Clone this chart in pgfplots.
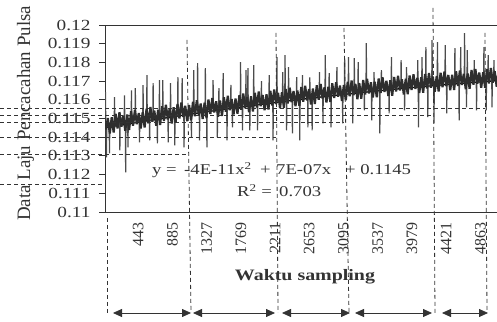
\documentclass[border=0pt]{standalone}
\usepackage{pgfplots}
\pgfplotsset{compat=1.18}
\usepackage{fontspec}
\setmainfont{Liberation Serif}
\newfontfamily\hfont{Liberation Serif}[FakeStretch=1.25]
\usetikzlibrary{arrows.meta}
\definecolor{ink}{gray}{0.2}
\begin{document}
\begin{tikzpicture}
\useasboundingbox (0,0) rectangle (497bp,322bp);
\fill[white] (0,0) rectangle (497bp,322bp);
\begin{axis}[at={(105bp,110bp)}, anchor=south west, scale only axis,
  width=395bp, height=187bp,
  xmin=13, xmax=5118, ymin=0.11, ymax=0.12,
  axis line style={ink, line width=0.8bp},
  xtick={443,885,1327,1769,2211,2653,3095,3537,3979,4421,4863},
  xticklabels={443,885,1327,1769,2211,2653,3095,3537,3979,4421,4863},
  xtick style={draw=none},
  xticklabel style={rotate=90, anchor=east, font=\fontsize{16}{16}\selectfont, text=ink, xshift=-1bp},
  ytick={0.11,0.111,0.112,0.113,0.114,0.115,0.116,0.117,0.118,0.119,0.12},
  yticklabels={0.11,0.111,0.112,0.113,0.114,0.115,0.116,0.117,0.118,0.119,0.12},
  ytick pos=left, tick align=outside, major tick length=6bp,
  ytick style={ink, line width=0.8bp},
  yticklabel style={font=\hfont\fontsize{15.5}{16}\selectfont, text=ink, xshift=-5bp},
  clip=true]
% polynomial trendline
\addplot[black, line width=1.3pt, smooth] coordinates {
(0,0.11450)(500,0.11484)(1000,0.11516)(1500,0.11546)(2000,0.11574)(2500,0.11600)(3000,0.11624)(3500,0.11646)(4000,0.11666)(4500,0.11684)(5000,0.11700)(5118,0.11704)
};
% isolated excursions of the count rate
\addplot[black!70, line width=1.2bp, line join=bevel] coordinates {
(0,.1147)(15,.1147)(19,.11641)(23,.1147)(28,.1147)(32,.11292)(36,.1147)(67,.1147)(71,.11313)(75,.1147)
(132,.11477)(136,.11614)(140,.11477)
(201,.11484)(205,.11330)(209,.11484)(261,.11484)(265,.11624)(269,.11484)(276,.11484)(280,.11212)(284,.11484)
(306,.11491)(310,.11346)(314,.11491)(351,.11491)(355,.11651)(359,.11491)
(401,.11497)(405,.11662)(409,.11497)(455,.11497)(459,.11373)(463,.11497)
(501,.11504)(505,.11678)(509,.11504)(551,.11504)(555,.11732)(559,.11504)(586,.11504)(590,.11383)(594,.11504)
(631,.11511)(635,.11689)(639,.11511)(686,.11511)(690,.11367)(694,.11511)
(713,.11517)(717,.11705)(721,.11517)(756,.11517)(760,.11705)(764,.11517)
(826,.11523)(830,.11373)(834,.11523)(856,.11523)(860,.11689)(864,.11523)
(911,.1153)(915,.11356)(919,.1153)(951,.1153)(955,.11721)(959,.1153)
(1006,.11536)(1010,.11716)(1014,.11536)(1031,.11536)(1035,.11346)(1039,.11536)
(1126,.11542)(1130,.11399)(1134,.11542)(1156,.11542)(1160,.11759)(1164,.11542)
(1206,.11548)(1210,.11796)(1214,.11548)(1231,.11548)(1235,.11383)(1239,.11548)
(1306,.11554)(1310,.11769)(1314,.11554)(1326,.11554)(1330,.11346)(1334,.11554)
(1406,.1156)(1410,.11705)(1414,.1156)(1461,.1156)(1465,.11399)(1469,.1156)(1481,.1156)(1485,.11662)(1489,.1156)
(1536,.11566)(1540,.11742)(1544,.11566)(1586,.11566)(1590,.11383)(1594,.11566)
(1636,.11572)(1640,.11680)(1644,.11572)(1656,.11572)(1660,.11453)(1664,.11572)
(1761,.11577)(1765,.11801)(1769,.11577)(1786,.11577)(1790,.11437)(1794,.11577)
(1831,.11583)(1835,.11758)(1839,.11583)(1856,.11583)(1860,.11769)(1864,.11583)(1881,.11583)(1885,.11437)(1889,.11583)
(1931,.11589)(1935,.11785)(1939,.11589)(1981,.11589)(1985,.11437)(1989,.11589)
(2031,.11594)(2035,.11700)(2039,.11594)
(2131,.116)(2135,.11732)(2139,.116)(2181,.116)(2185,.11383)(2189,.116)
(2231,.11605)(2235,.11828)(2239,.11605)
(2306,.1161)(2310,.11748)(2314,.1161)(2336,.1161)(2340,.11839)(2344,.1161)(2356,.1161)(2360,.11437)(2364,.1161)(2381,.1161)(2385,.11775)(2389,.1161)
(2431,.11615)(2435,.11421)(2439,.11615)(2486,.11615)(2490,.11721)(2494,.11615)
(2526,.1162)(2530,.11383)(2534,.1162)(2561,.1162)(2565,.11732)(2569,.1162)
(2631,.11625)(2635,.11453)(2639,.11625)(2656,.11625)(2660,.11720)(2664,.11625)(2686,.11625)(2690,.11437)(2694,.11625)
(2781,.1163)(2785,.11748)(2789,.1163)
(2826,.11635)(2830,.11474)(2834,.11635)(2856,.11635)(2860,.11839)(2864,.11635)
(2906,.1164)(2910,.11742)(2914,.1164)(2931,.1164)(2935,.11453)(2939,.1164)
(3006,.11644)(3010,.11775)(3014,.11644)(3081,.11644)(3085,.11474)(3089,.11644)
(3106,.11649)(3110,.11823)(3114,.11649)(3156,.11649)(3160,.11828)(3164,.11649)
(3211,.11653)(3215,.11474)(3219,.11653)(3231,.11653)(3235,.11823)(3239,.11653)(3281,.11653)(3285,.11801)(3289,.11653)
(3361,.11658)(3365,.11544)(3369,.11658)(3386,.11658)(3390,.11903)(3394,.11658)
(3456,.11662)(3460,.11490)(3464,.11662)(3486,.11662)(3490,.11748)(3494,.11662)
(3561,.11666)(3565,.11421)(3569,.11666)(3581,.11666)(3585,.11758)(3589,.11666)
(3681,.1167)(3685,.11528)(3689,.1167)
(3711,.11674)(3715,.11828)(3719,.11674)
(3836,.11678)(3840,.11812)(3844,.11678)(3881,.11678)(3885,.11544)(3889,.11678)
(3906,.11682)(3910,.11775)(3914,.11682)
(4051,.11686)(4055,.11812)(4059,.11686)(4061,.11686)(4065,.11453)(4069,.11686)
(4106,.1169)(4110,.11828)(4114,.1169)(4156,.1169)(4160,.11882)(4164,.1169)(4181,.1169)(4185,.11507)(4189,.1169)
(4236,.11693)(4240,.11919)(4244,.11693)(4261,.11693)(4265,.11474)(4269,.11693)
(4306,.11697)(4310,.11909)(4314,.11697)
(4406,.11701)(4410,.11893)(4414,.11701)(4426,.11701)(4430,.11528)(4434,.11701)
(4531,.11704)(4535,.11876)(4539,.11704)(4586,.11704)(4590,.11490)(4594,.11704)
(4606,.11707)(4610,.11882)(4614,.11707)(4656,.11707)(4660,.11957)(4664,.11707)(4681,.11707)(4685,.11560)(4689,.11707)(4691,.11707)(4695,.11866)(4699,.11707)
(4781,.11711)(4785,.11812)(4789,.11711)
(4811,.11714)(4815,.11544)(4819,.11714)
(4906,.11717)(4910,.11882)(4914,.11717)(4936,.11717)(4940,.11544)(4944,.11717)(4961,.11717)(4965,.11839)(4969,.11717)
(5011,.1172)(5015,.11560)(5019,.1172)(5036,.1172)(5040,.11812)(5044,.1172)(5125,.11723)
};
% dense scatter of the count rate around its mean
\addplot[black!82, line width=2.2bp, line join=bevel] coordinates {
(0,.11520)(25,.11442)(50,.11502)(75,.11420)
(100,.11507)(125,.11425)(150,.11525)(175,.11447)
(200,.11534)(225,.11456)(250,.11516)(275,.11434)
(300,.11521)(325,.11439)(350,.11539)(375,.11461)
(400,.11547)(425,.11469)(450,.11529)(475,.11447)
(500,.11534)(525,.11452)(550,.11552)(575,.11474)
(600,.11561)(625,.11483)(650,.11543)(675,.11461)
(700,.11547)(725,.11465)(750,.11565)(775,.11487)
(800,.11573)(825,.11495)(850,.11555)(875,.11473)
(900,.11560)(925,.11478)(950,.11578)(975,.11500)
(1000,.11586)(1025,.11508)(1050,.11568)(1075,.11486)
(1100,.11572)(1125,.11490)(1150,.11590)(1175,.11512)
(1200,.11598)(1225,.11520)(1250,.11580)(1275,.11498)
(1300,.11584)(1325,.11502)(1350,.11602)(1375,.11524)
(1400,.11610)(1425,.11532)(1450,.11592)(1475,.11510)
(1500,.11596)(1525,.11514)(1550,.11614)(1575,.11536)
(1600,.11622)(1625,.11544)(1650,.11604)(1675,.11522)
(1700,.11607)(1725,.11525)(1750,.11625)(1775,.11547)
(1800,.11633)(1825,.11555)(1850,.11615)(1875,.11533)
(1900,.11619)(1925,.11537)(1950,.11637)(1975,.11559)
(2000,.11644)(2025,.11566)(2050,.11626)(2075,.11544)
(2100,.11630)(2125,.11548)(2150,.11648)(2175,.11570)
(2200,.11655)(2225,.11577)(2250,.11637)(2275,.11555)
(2300,.11640)(2325,.11558)(2350,.11658)(2375,.11580)
(2400,.11665)(2425,.11587)(2450,.11647)(2475,.11565)
(2500,.11650)(2525,.11568)(2550,.11668)(2575,.11590)
(2600,.11675)(2625,.11597)(2650,.11657)(2675,.11575)
(2700,.11660)(2725,.11578)(2750,.11678)(2775,.11600)
(2800,.11685)(2825,.11607)(2850,.11667)(2875,.11585)
(2900,.11670)(2925,.11588)(2950,.11688)(2975,.11610)
(3000,.11694)(3025,.11616)(3050,.11676)(3075,.11594)
(3100,.11679)(3125,.11597)(3150,.11697)(3175,.11619)
(3200,.11703)(3225,.11625)(3250,.11685)(3275,.11603)
(3300,.11688)(3325,.11606)(3350,.11706)(3375,.11628)
(3400,.11712)(3425,.11634)(3450,.11694)(3475,.11612)
(3500,.11696)(3525,.11614)(3550,.11714)(3575,.11636)
(3600,.11720)(3625,.11642)(3650,.11702)(3675,.11620)
(3700,.11704)(3725,.11622)(3750,.11722)(3775,.11644)
(3800,.11728)(3825,.11650)(3850,.11710)(3875,.11628)
(3900,.11712)(3925,.11630)(3950,.11730)(3975,.11652)
(4000,.11736)(4025,.11658)(4050,.11718)(4075,.11636)
(4100,.11720)(4125,.11638)(4150,.11738)(4175,.11660)
(4200,.11743)(4225,.11665)(4250,.11725)(4275,.11643)
(4300,.11727)(4325,.11645)(4350,.11745)(4375,.11667)
(4400,.11751)(4425,.11673)(4450,.11733)(4475,.11651)
(4500,.11734)(4525,.11652)(4550,.11752)(4575,.11674)
(4600,.11757)(4625,.11679)(4650,.11739)(4675,.11657)
(4700,.11741)(4725,.11659)(4750,.11759)(4775,.11681)
(4800,.11764)(4825,.11686)(4850,.11746)(4875,.11664)
(4900,.11747)(4925,.11665)(4950,.11765)(4975,.11687)
(5000,.11770)(5025,.11692)(5050,.11752)(5075,.11670)
(5100,.11753)(5125,.11671)
};
\end{axis}
\begin{scope}[x=1bp, y=-1bp, shift={(0,322bp)}]
  \begin{scope}[ink, line width=0.8bp, dash pattern=on 4bp off 3bp]
    \draw (0,184)--(105,184);
    \draw (0,154)--(187,154);
    \draw (0,137)--(276,137);
    \draw (0,122)--(344,122);
    \draw (0,115)--(433,115);
    \draw (0,108)--(485,108);
    \draw (107,218)--(107,313);
    \draw (187,40)--(191,313);
    \draw (276,33)--(278,313);
    \draw (344,28)--(349,313);
    \draw (433,8)--(435,313);
    \draw (485,33)--(487,313);
  \end{scope}
  \begin{scope}[ink, line width=0.8bp, {Triangle[length=9bp,width=8bp]}-{Triangle[length=9bp,width=8bp]}]
    \draw (113,313)--(191,313);
    \draw (193,313)--(275,313);
    \draw (282,313)--(350,313);
    \draw (355,313)--(432,313);
    \draw (442,313)--(488,313);
  \end{scope}
  \begin{scope}[every node/.style={inner sep=0pt, text=ink, font=\hfont\fontsize{15}{15}\selectfont}]
    \node[anchor=base west] at (152,175) {y =};
    \node[anchor=base west] at (184,175) {-4E-11x\textsuperscript{2}};
    \node[anchor=base west] at (260,175) {+};
    \node[anchor=base west] at (276,175) {7E-07x};
    \node[anchor=base west] at (345,175) {+ 0.1145};
    \node[anchor=base west] at (237,197) {R\textsuperscript{2} =};
    \node[anchor=base west] at (279,197) {0.703};
    \node[anchor=base] at (305,281) {\fontsize{16}{16}\selectfont\bfseries Waktu sampling};
  \end{scope}
  \node[rotate=90, anchor=base west, inner sep=0pt, text=ink, font=\fontsize{19}{19}\selectfont] at (30,221) {Data Laju Pencacahan Pulsa};
\end{scope}
\end{tikzpicture}
\end{document}
